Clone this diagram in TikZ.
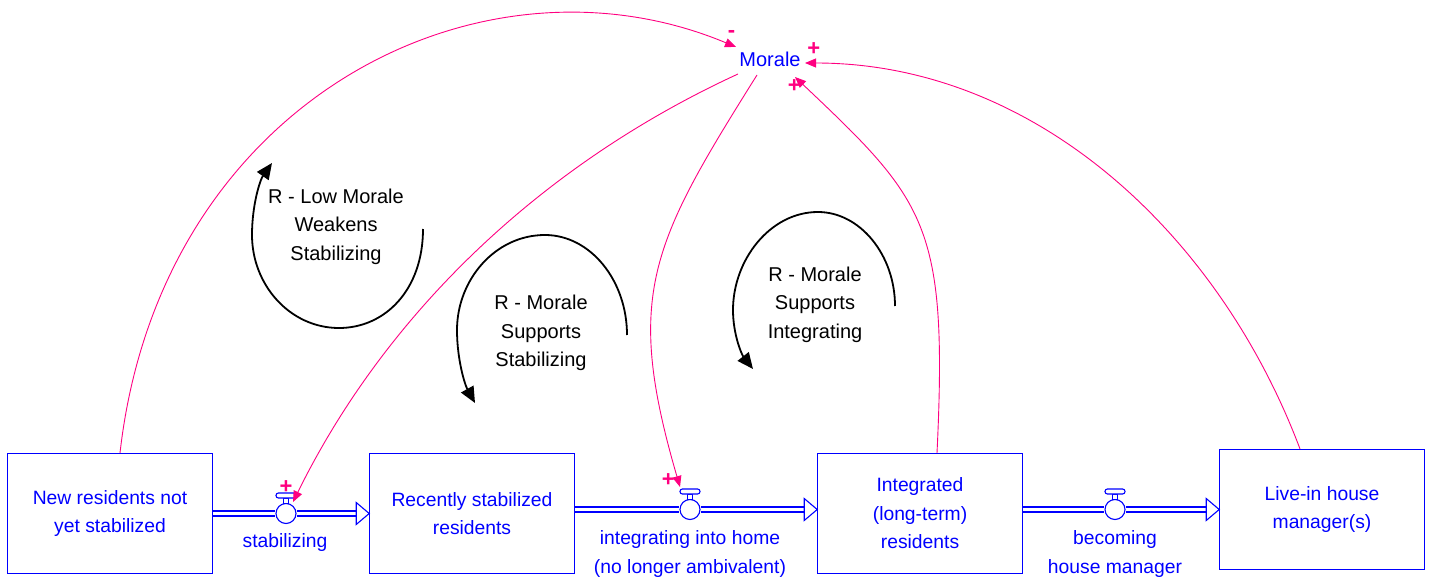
\documentclass[tikz,border=0pt]{standalone}
\usepackage{fontspec}
\setmainfont{Liberation Sans}
\usetikzlibrary{arrows.meta,calc}
\definecolor{stockblue}{RGB}{0,0,255}
\definecolor{linkpink}{RGB}{255,0,128}
\begin{document}
\begin{tikzpicture}[x=1pt,y=-1pt,
  every node/.style={font=\fontsize{20}{28.5}\selectfont},
  bluetext/.style={font=\fontsize{19.3}{28.5}\selectfont},
  stock/.style={bluetext, draw=stockblue, line width=1.1pt, text=stockblue, minimum width=204.5pt,
    minimum height=120pt, inner sep=0pt, align=center},
  valve/.style={circle, draw=stockblue, line width=1.1pt, fill=white, minimum size=20pt, inner sep=0pt},
  pipe/.style={draw=stockblue, line width=1.1pt, double=white, double distance=3.9pt},
  flowline/.style={draw=stockblue, line width=1.1pt, fill=white},
  flowname/.style={bluetext, text=stockblue, align=center},
  aux/.style={text=stockblue, inner sep=0pt},
  link/.style={draw=linkpink, line width=0.9pt, -{Triangle[length=11pt,width=9pt]}},
  pol/.style={text=linkpink, font=\fontsize{22}{22}\selectfont\bfseries, inner sep=0pt},
  loop/.style={draw=black, line width=1.8pt, -{Triangle[length=16pt,width=14pt]}},
  looplabel/.style={align=center, text=black}
]
\useasboundingbox (0,0) rectangle (1429,580);

% stocks
\node[stock] (s1) at (110,513.5) {New residents not\\yet stabilized};
\node[stock] (s2) at (472,513.5) {Recently stabilized\\residents};
\node[stock] (s3) at (920,513.5) {Integrated\\(long-term)\\residents};
\node[stock] (s4) at (1322,509.5) {Live-in house\\manager(s)};

% valves
\node[valve] (v1) at (286,513.5) {};
\node[valve] (v2) at (690,509.5) {};
\node[valve] (v3) at (1115,509.5) {};

% pipes with hollow heads
\draw[pipe] (s1.east) -- (v1);
\draw[pipe] (v1) -- ($(s2.west)+(-13,0)$);
\draw[flowline] ($(s2.west)+(-13,-11)$) -- (s2.west) -- ($(s2.west)+(-13,11)$) -- cycle;

\draw[pipe] (s2.east |- v2) -- (v2);
\draw[pipe] (v2) -- ($(s3.west |- v2)+(-13,0)$);
\draw[flowline] ($(s3.west |- v2)+(-13,-11)$) -- (s3.west |- v2) -- ($(s3.west |- v2)+(-13,11)$) -- cycle;

\draw[pipe] (s3.east |- v3) -- (v3);
\draw[pipe] (v3) -- ($(s4.west |- v3)+(-13,0)$);
\draw[flowline] ($(s4.west |- v3)+(-13,-11)$) -- (s4.west |- v3) -- ($(s4.west |- v3)+(-13,11)$) -- cycle;

% valve stems and caps
\foreach \v in {v1,v2,v3}{
  \draw[flowline] ($(\v)+(-2.5,-10)$) rectangle ($(\v)+(2.5,-15.5)$);
  \draw[flowline, rounded corners=2.4pt] ($(\v)+(-10,-15.5)$) rectangle ($(\v)+(10,-20.5)$);
}

% flow names
\node[flowname] (n1) at (285,543) {stabilizing};
\node[flowname] (n2) at (690,554) {integrating into home\\(no longer ambivalent)};
\node[flowname] (n3) at (1115,554) {becoming\\house manager};

% auxiliary
\node[aux] (morale) at (770,59) {Morale};

% causal links
\draw[link] ([xshift=10pt]s1.north) .. controls (160,100) and (480,-60) .. ($(morale)+(-34,-12)$);
\draw[link] ($(morale)+(-32,15)$) .. controls (540,165) and (385,315) .. ($(v1)+(7,-11.5)$);
\draw[link] ($(morale)+(-13,16)$) .. controls (651,244) and (624,295) .. ($(v2)+(-10,-22.5)$);
\draw[link] ([xshift=17pt]s3.north) .. controls (948,224) and (926,201) .. ($(morale)+(25,18)$);
\draw[link] ([xshift=-22pt]s4.north) .. controls (1219,234) and (1035,63) .. ($(morale)+(35,4)$);

% polarities
\node[pol] (p1) at (731.5,34) {-};
\node[pol] (p2) at (813.7,49.5) {+};
\node[pol] (p3) at (794.3,86) {+};
\node[pol] (p4) at (286,487) {+};
\node[pol] (p5) at (668.3,480.3) {+};

% loop markers
\draw[loop] (423,229) .. controls (423,290) and (385,328) .. (339,328)
  .. controls (290,328) and (252,285) .. (252,235)
  .. controls (252,205) and (260,180) .. (272,163);
\draw[loop] (627,335) .. controls (627,280) and (590,235) .. (545,235)
  .. controls (495,235) and (457,280) .. (457,330)
  .. controls (457,360) and (465,385) .. (475,403);
\draw[loop] (895,306) .. controls (895,255) and (860,212) .. (818,212)
  .. controls (770,212) and (733,260) .. (733,310)
  .. controls (733,335) and (742,355) .. (753,369);

\node[looplabel] (r1) at (336,226.5) {R - Low Morale\\Weakens\\Stabilizing};
\node[looplabel] (r2) at (541,333) {R - Morale\\Supports\\Stabilizing};
\node[looplabel] (r3) at (815,304.5) {R - Morale\\Supports\\Integrating};
\end{tikzpicture}
\end{document}
